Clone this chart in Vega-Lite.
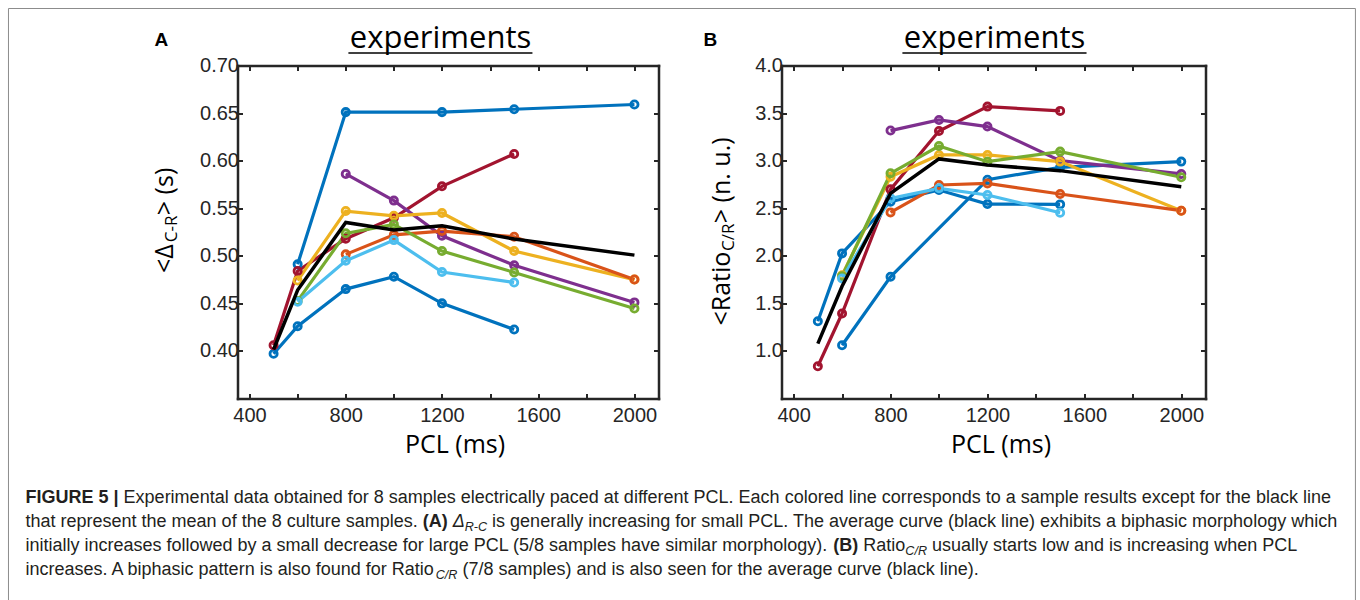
{
  "$schema": "https://vega.github.io/schema/vega-lite/v6.json",
  "background": "white",
  "padding": {"left": 7.5, "top": 7.5, "right": 0, "bottom": 0},
  "autosize": {"type": "pad"},
  "config": {
    "view": {"stroke": null},
    "font": "Liberation Sans",
    "axis": {
      "grid": false,
      "domainColor": "#262626",
      "domainWidth": 2.5,
      "domainCap": "square",
      "tickColor": "#262626",
      "tickWidth": 2,
      "tickSize": -5,
      "labelFont": "Liberation Sans",
      "labelFontSize": 20,
      "labelColor": "#262626",
      "labelOverlap": false,
      "labelFlush": false,
      "titleFont": "Open Sans",
      "titleFontSize": 25,
      "titleFontWeight": "normal",
      "titleColor": "#000000"
    }
  },
  "datasets": {
    "A": [
      {"sample": "s1", "pcl": 600, "v": 0.491}, {"sample": "s1", "pcl": 800, "v": 0.651}, {"sample": "s1", "pcl": 1200, "v": 0.651}, {"sample": "s1", "pcl": 1500, "v": 0.654}, {"sample": "s1", "pcl": 2000, "v": 0.659},
      {"sample": "s2", "pcl": 500, "v": 0.397}, {"sample": "s2", "pcl": 600, "v": 0.426}, {"sample": "s2", "pcl": 800, "v": 0.465}, {"sample": "s2", "pcl": 1000, "v": 0.478}, {"sample": "s2", "pcl": 1200, "v": 0.45}, {"sample": "s2", "pcl": 1500, "v": 0.4225},
      {"sample": "s3", "pcl": 500, "v": 0.406}, {"sample": "s3", "pcl": 600, "v": 0.484}, {"sample": "s3", "pcl": 800, "v": 0.518}, {"sample": "s3", "pcl": 1000, "v": 0.54}, {"sample": "s3", "pcl": 1200, "v": 0.573}, {"sample": "s3", "pcl": 1500, "v": 0.607},
      {"sample": "s4", "pcl": 800, "v": 0.586}, {"sample": "s4", "pcl": 1000, "v": 0.558}, {"sample": "s4", "pcl": 1200, "v": 0.521}, {"sample": "s4", "pcl": 1500, "v": 0.49}, {"sample": "s4", "pcl": 2000, "v": 0.451},
      {"sample": "s5", "pcl": 600, "v": 0.474}, {"sample": "s5", "pcl": 800, "v": 0.547}, {"sample": "s5", "pcl": 1000, "v": 0.542}, {"sample": "s5", "pcl": 1200, "v": 0.545}, {"sample": "s5", "pcl": 1500, "v": 0.505}, {"sample": "s5", "pcl": 2000, "v": 0.475},
      {"sample": "s6", "pcl": 800, "v": 0.5015}, {"sample": "s6", "pcl": 1000, "v": 0.522}, {"sample": "s6", "pcl": 1200, "v": 0.526}, {"sample": "s6", "pcl": 1500, "v": 0.52}, {"sample": "s6", "pcl": 2000, "v": 0.475},
      {"sample": "s7", "pcl": 600, "v": 0.4526}, {"sample": "s7", "pcl": 800, "v": 0.5236}, {"sample": "s7", "pcl": 1000, "v": 0.533}, {"sample": "s7", "pcl": 1200, "v": 0.505}, {"sample": "s7", "pcl": 1500, "v": 0.4825}, {"sample": "s7", "pcl": 2000, "v": 0.4446},
      {"sample": "s8", "pcl": 600, "v": 0.4516}, {"sample": "s8", "pcl": 800, "v": 0.4947}, {"sample": "s8", "pcl": 1000, "v": 0.5165}, {"sample": "s8", "pcl": 1200, "v": 0.483}, {"sample": "s8", "pcl": 1500, "v": 0.472},
      {"sample": "mean", "pcl": 500, "v": 0.4015}, {"sample": "mean", "pcl": 600, "v": 0.464}, {"sample": "mean", "pcl": 800, "v": 0.535}, {"sample": "mean", "pcl": 1000, "v": 0.527}, {"sample": "mean", "pcl": 1200, "v": 0.5316}, {"sample": "mean", "pcl": 1500, "v": 0.5176}, {"sample": "mean", "pcl": 2000, "v": 0.5007}
    ],
    "B": [
      {"sample": "s1", "pcl": 600, "v": 1.06}, {"sample": "s1", "pcl": 800, "v": 1.779}, {"sample": "s1", "pcl": 1200, "v": 2.8}, {"sample": "s1", "pcl": 1500, "v": 2.93}, {"sample": "s1", "pcl": 2000, "v": 2.99},
      {"sample": "s2", "pcl": 500, "v": 1.312}, {"sample": "s2", "pcl": 600, "v": 2.025}, {"sample": "s2", "pcl": 800, "v": 2.568}, {"sample": "s2", "pcl": 1000, "v": 2.691}, {"sample": "s2", "pcl": 1200, "v": 2.544}, {"sample": "s2", "pcl": 1500, "v": 2.54},
      {"sample": "s3", "pcl": 500, "v": 0.839}, {"sample": "s3", "pcl": 600, "v": 1.393}, {"sample": "s3", "pcl": 800, "v": 2.698}, {"sample": "s3", "pcl": 1000, "v": 3.312}, {"sample": "s3", "pcl": 1200, "v": 3.568}, {"sample": "s3", "pcl": 1500, "v": 3.523},
      {"sample": "s4", "pcl": 800, "v": 3.316}, {"sample": "s4", "pcl": 1000, "v": 3.428}, {"sample": "s4", "pcl": 1200, "v": 3.358}, {"sample": "s4", "pcl": 1500, "v": 3.0}, {"sample": "s4", "pcl": 2000, "v": 2.86},
      {"sample": "s5", "pcl": 600, "v": 1.796}, {"sample": "s5", "pcl": 800, "v": 2.83}, {"sample": "s5", "pcl": 1000, "v": 3.06}, {"sample": "s5", "pcl": 1200, "v": 3.06}, {"sample": "s5", "pcl": 1500, "v": 2.99}, {"sample": "s5", "pcl": 2000, "v": 2.474},
      {"sample": "s6", "pcl": 800, "v": 2.456}, {"sample": "s6", "pcl": 1000, "v": 2.744}, {"sample": "s6", "pcl": 1200, "v": 2.761}, {"sample": "s6", "pcl": 1500, "v": 2.649}, {"sample": "s6", "pcl": 2000, "v": 2.474},
      {"sample": "s7", "pcl": 600, "v": 1.786}, {"sample": "s7", "pcl": 800, "v": 2.867}, {"sample": "s7", "pcl": 1000, "v": 3.154}, {"sample": "s7", "pcl": 1200, "v": 2.989}, {"sample": "s7", "pcl": 1500, "v": 3.095}, {"sample": "s7", "pcl": 2000, "v": 2.825},
      {"sample": "s8", "pcl": 600, "v": 1.761}, {"sample": "s8", "pcl": 800, "v": 2.604}, {"sample": "s8", "pcl": 1000, "v": 2.709}, {"sample": "s8", "pcl": 1200, "v": 2.639}, {"sample": "s8", "pcl": 1500, "v": 2.453},
      {"sample": "mean", "pcl": 500, "v": 1.077}, {"sample": "mean", "pcl": 600, "v": 1.68}, {"sample": "mean", "pcl": 800, "v": 2.656}, {"sample": "mean", "pcl": 1000, "v": 3.018}, {"sample": "mean", "pcl": 1200, "v": 2.954}, {"sample": "mean", "pcl": 1500, "v": 2.895}, {"sample": "mean", "pcl": 2000, "v": 2.726}
    ],
    "caption": [
      {"part": "L1a", "line": 1, "t": "FIGURE 5 |"},
      {"part": "L1b", "line": 1, "t": "Experimental data obtained for 8 samples electrically paced at different PCL. Each colored line corresponds to a sample results except for the black line"},
      {"part": "L2a", "line": 2, "t": "that represent the mean of the 8 culture samples."},
      {"part": "L2b", "line": 2, "t": "(A)"},
      {"part": "L2c", "line": 2, "t": "Δ"},
      {"part": "L2d", "line": 2, "t": "R-C"},
      {"part": "L2e", "line": 2, "t": "is generally increasing for small PCL. The average curve (black line) exhibits a biphasic morphology which"},
      {"part": "L3a", "line": 3, "t": "initially increases followed by a small decrease for large PCL (5/8 samples have similar morphology)."},
      {"part": "L3b", "line": 3, "t": "(B)"},
      {"part": "L3c", "line": 3, "t": "Ratio"},
      {"part": "L3d", "line": 3, "t": "C/R"},
      {"part": "L3e", "line": 3, "t": "usually starts low and is increasing when PCL"},
      {"part": "L4a", "line": 4, "t": "increases. A biphasic pattern is also found for Ratio"},
      {"part": "L4b", "line": 4, "t": "C/R"},
      {"part": "L4c", "line": 4, "t": "(7/8 samples) and is also seen for the average curve (black line)."}
    ]
  },
  "concat": [
    {
      "width": 421,
      "height": 333,
      "resolve": {"axis": {"x": "independent", "y": "independent"}},
      "layer": [
        {
          "data": {"name": "A"},
          "transform": [{"filter": "datum.sample !== 'mean'"}],
          "mark": {"type": "line", "strokeWidth": 3.2, "point": {"filled": false, "size": 52, "strokeWidth": 2.8}},
          "encoding": {
            "x": {"field": "pcl", "type": "quantitative", "scale": {"domain": [350, 2100], "nice": false, "zero": false},
              "axis": {"orient": "bottom", "values": [400, 600, 800, 1000, 1200, 1400, 1600, 1800, 2000], "format": "d", "labelExpr": "datum.value % 400 === 0 ? datum.label : ''", "labelPadding": 12, "title": "PCL (ms)", "titleX": 217, "titleY": 54, "titleBaseline": "alphabetic"}},
            "y": {"field": "v", "type": "quantitative", "scale": {"domain": [0.35, 0.7], "nice": false, "zero": false},
              "axis": {"orient": "left", "values": [0.4, 0.45, 0.5, 0.55, 0.6, 0.65, 0.7], "format": ".2f", "labelPadding": 4, "title": null}},
            "color": {"field": "sample", "type": "nominal", "scale": {"domain": ["s1", "s2", "s3", "s4", "s5", "s6", "s7", "s8"], "range": ["#0072BD", "#0072BD", "#A2142F", "#7E2F8E", "#EDB120", "#D95319", "#77AC30", "#4DBEEE"]}, "legend": null}
          }
        },
        {
          "data": {"name": "A"},
          "transform": [{"filter": "datum.sample === 'mean'"}],
          "mark": {"type": "line", "color": "#000000", "strokeWidth": 3.5},
          "encoding": {
            "x": {"field": "pcl", "type": "quantitative", "axis": null},
            "y": {"field": "v", "type": "quantitative", "axis": null}
          }
        },
        {
          "data": {"name": "A"},
          "mark": {"type": "point", "opacity": 0},
          "encoding": {
            "x": {"field": "pcl", "type": "quantitative", "axis": {"orient": "top", "labels": false, "title": null, "values": [400, 600, 800, 1000, 1200, 1400, 1600, 1800, 2000]}},
            "y": {"field": "v", "type": "quantitative", "axis": {"orient": "right", "labels": false, "title": null, "values": [0.4, 0.45, 0.5, 0.55, 0.6, 0.65, 0.7]}}
          }
        },
        {
          "data": {"values": [{}]},
          "mark": {"type": "rule", "color": "#8c8c8c", "strokeWidth": 1},
          "encoding": {
            "x": {"datum": -602, "type": "quantitative", "axis": null},
            "x2": {"datum": 4997},
            "y": {"datum": 0.7599, "type": "quantitative", "axis": null}
          }
        },
        {
          "data": {"values": [{}]},
          "mark": {"type": "rule", "color": "#8c8c8c", "strokeWidth": 1},
          "encoding": {
            "x": {"datum": -602, "type": "quantitative", "axis": null},
            "y": {"datum": 0.7599, "type": "quantitative", "axis": null},
            "y2": {"datum": 0.1382}
          }
        },
        {
          "data": {"values": [{}]},
          "mark": {"type": "rule", "color": "#8c8c8c", "strokeWidth": 1},
          "encoding": {
            "x": {"datum": 4997, "type": "quantitative", "axis": null},
            "y": {"datum": 0.7599, "type": "quantitative", "axis": null},
            "y2": {"datum": 0.1382}
          }
        },
        {
          "data": {"values": [{"t": "experiments"}]},
          "mark": {"type": "text", "font": "Open Sans", "fontSize": 31, "align": "center", "baseline": "alphabetic", "color": "#000000", "dx": -7.5, "dy": -17.5},
          "encoding": {
            "x": {"datum": 1225, "type": "quantitative", "axis": null},
            "y": {"datum": 0.7, "type": "quantitative", "axis": null},
            "text": {"field": "t"}
          }
        },
        {
          "data": {"values": [{}]},
          "mark": {"type": "rule", "color": "#000000", "strokeWidth": 1.6},
          "encoding": {
            "x": {"datum": 811, "type": "quantitative", "axis": null},
            "x2": {"datum": 1576},
            "y": {"datum": 0.7131, "type": "quantitative", "axis": null}
          }
        },
        {
          "data": {"values": [{"t": "A"}]},
          "mark": {"type": "text", "fontSize": 19, "fontWeight": "bold", "align": "left", "baseline": "alphabetic", "color": "#000000", "dx": -83, "dy": -20},
          "encoding": {
            "x": {"datum": 350, "type": "quantitative", "axis": null},
            "y": {"datum": 0.7, "type": "quantitative", "axis": null},
            "text": {"field": "t"}
          }
        },
        {
          "data": {"values": [{"t": "<Δ"}]},
          "mark": {"type": "text", "font": "Open Sans", "fontSize": 25, "angle": 270, "align": "left", "baseline": "alphabetic", "color": "#000000", "dx": 125.5, "dy": -65},
          "encoding": {
            "x": {"datum": 350, "type": "quantitative", "axis": null},
            "y": {"datum": 0.35, "type": "quantitative", "axis": null},
            "text": {"field": "t"}
          }
        },
        {
          "data": {"values": [{"t": "C-R"}]},
          "mark": {"type": "text", "font": "Open Sans", "fontSize": 17, "angle": 270, "align": "left", "baseline": "alphabetic", "color": "#000000", "dx": 156.3, "dy": -61},
          "encoding": {
            "x": {"datum": 350, "type": "quantitative", "axis": null},
            "y": {"datum": 0.35, "type": "quantitative", "axis": null},
            "text": {"field": "t"}
          }
        },
        {
          "data": {"values": [{"t": "> (s)"}]},
          "mark": {"type": "text", "font": "Open Sans", "fontSize": 25, "angle": 270, "align": "left", "baseline": "alphabetic", "color": "#000000", "dx": 183.3, "dy": -65},
          "encoding": {
            "x": {"datum": 350, "type": "quantitative", "axis": null},
            "y": {"datum": 0.35, "type": "quantitative", "axis": null},
            "text": {"field": "t"}
          }
        }
      ]
    },
    {
      "width": 424,
      "height": 333,
      "resolve": {"axis": {"x": "independent", "y": "independent"}},
      "layer": [
        {
          "data": {"name": "B"},
          "transform": [{"filter": "datum.sample !== 'mean'"}],
          "mark": {"type": "line", "strokeWidth": 3.2, "point": {"filled": false, "size": 52, "strokeWidth": 2.8}},
          "encoding": {
            "x": {"field": "pcl", "type": "quantitative", "scale": {"domain": [350, 2100], "nice": false, "zero": false},
              "axis": {"orient": "bottom", "values": [400, 600, 800, 1000, 1200, 1400, 1600, 1800, 2000], "format": "d", "labelExpr": "datum.value % 400 === 0 ? datum.label : ''", "labelPadding": 12, "title": "PCL (ms)", "titleX": 219, "titleY": 54, "titleBaseline": "alphabetic"}},
            "y": {"field": "v", "type": "quantitative", "scale": {"domain": [0.5, 4.0], "nice": false, "zero": false},
              "axis": {"orient": "left", "values": [1.0, 1.5, 2.0, 2.5, 3.0, 3.5, 4.0], "format": ".1f", "labelPadding": 4, "title": null}},
            "color": {"field": "sample", "type": "nominal", "scale": {"domain": ["s1", "s2", "s3", "s4", "s5", "s6", "s7", "s8"], "range": ["#0072BD", "#0072BD", "#A2142F", "#7E2F8E", "#EDB120", "#D95319", "#77AC30", "#4DBEEE"]}, "legend": null}
          }
        },
        {
          "data": {"name": "B"},
          "transform": [{"filter": "datum.sample === 'mean'"}],
          "mark": {"type": "line", "color": "#000000", "strokeWidth": 3.5},
          "encoding": {
            "x": {"field": "pcl", "type": "quantitative", "axis": null},
            "y": {"field": "v", "type": "quantitative", "axis": null}
          }
        },
        {
          "data": {"name": "B"},
          "mark": {"type": "point", "opacity": 0},
          "encoding": {
            "x": {"field": "pcl", "type": "quantitative", "axis": {"orient": "top", "labels": false, "title": null, "values": [400, 600, 800, 1000, 1200, 1400, 1600, 1800, 2000]}},
            "y": {"field": "v", "type": "quantitative", "axis": {"orient": "right", "labels": false, "title": null, "values": [1.0, 1.5, 2.0, 2.5, 3.0, 3.5, 4.0]}}
          }
        },
        {
          "data": {"values": [{"t": "experiments"}]},
          "mark": {"type": "text", "font": "Open Sans", "fontSize": 31, "align": "center", "baseline": "alphabetic", "color": "#000000", "dx": 1, "dy": -17.5},
          "encoding": {
            "x": {"datum": 1225, "type": "quantitative", "axis": null},
            "y": {"datum": 4.0, "type": "quantitative", "axis": null},
            "text": {"field": "t"}
          }
        },
        {
          "data": {"values": [{}]},
          "mark": {"type": "rule", "color": "#000000", "strokeWidth": 1.6},
          "encoding": {
            "x": {"datum": 849, "type": "quantitative", "axis": null},
            "x2": {"datum": 1609},
            "y": {"datum": 4.1314, "type": "quantitative", "axis": null}
          }
        },
        {
          "data": {"values": [{"t": "B"}]},
          "mark": {"type": "text", "fontSize": 19, "fontWeight": "bold", "align": "left", "baseline": "alphabetic", "color": "#000000", "dx": -78, "dy": -20},
          "encoding": {
            "x": {"datum": 350, "type": "quantitative", "axis": null},
            "y": {"datum": 4.0, "type": "quantitative", "axis": null},
            "text": {"field": "t"}
          }
        },
        {
          "data": {"values": [{"t": "<Ratio"}]},
          "mark": {"type": "text", "font": "Open Sans", "fontSize": 25, "angle": 270, "align": "left", "baseline": "alphabetic", "color": "#000000", "dx": 73, "dy": -52},
          "encoding": {
            "x": {"datum": 350, "type": "quantitative", "axis": null},
            "y": {"datum": 0.5, "type": "quantitative", "axis": null},
            "text": {"field": "t"}
          }
        },
        {
          "data": {"values": [{"t": "C/R"}]},
          "mark": {"type": "text", "font": "Open Sans", "fontSize": 17, "angle": 270, "align": "left", "baseline": "alphabetic", "color": "#000000", "dx": 147.5, "dy": -48},
          "encoding": {
            "x": {"datum": 350, "type": "quantitative", "axis": null},
            "y": {"datum": 0.5, "type": "quantitative", "axis": null},
            "text": {"field": "t"}
          }
        },
        {
          "data": {"values": [{"t": "> (n. u.)"}]},
          "mark": {"type": "text", "font": "Open Sans", "fontSize": 25, "angle": 270, "align": "left", "baseline": "alphabetic", "color": "#000000", "dx": 175.3, "dy": -52},
          "encoding": {
            "x": {"datum": 350, "type": "quantitative", "axis": null},
            "y": {"datum": 0.5, "type": "quantitative", "axis": null},
            "text": {"field": "t"}
          }
        }
      ]
    },
    {
      "width": 421,
      "height": 72,
      "data": {"name": "caption"},
      "encoding": {
        "x": {"datum": 0, "type": "quantitative", "scale": {"domain": [0, 1]}, "axis": null},
        "y": {"field": "line", "type": "quantitative", "scale": {"domain": [1, 4], "reverse": true}, "axis": null},
        "text": {"field": "t"}
      },
      "layer": [
        {"transform": [{"filter": "datum.part === 'L1a'"}], "mark": {"type": "text", "align": "left", "baseline": "alphabetic", "fontSize": 18, "fontWeight": "bold", "color": "#231f20", "dx": -212}},
        {"transform": [{"filter": "datum.part === 'L1b'"}], "mark": {"type": "text", "align": "left", "baseline": "alphabetic", "fontSize": 18, "color": "#231f20", "dx": -113.9}},
        {"transform": [{"filter": "datum.part === 'L2a'"}], "mark": {"type": "text", "align": "left", "baseline": "alphabetic", "fontSize": 18, "color": "#231f20", "dx": -212}},
        {"transform": [{"filter": "datum.part === 'L2b'"}], "mark": {"type": "text", "align": "left", "baseline": "alphabetic", "fontSize": 18, "fontWeight": "bold", "color": "#231f20", "dx": 185.2}},
        {"transform": [{"filter": "datum.part === 'L2c'"}], "mark": {"type": "text", "align": "left", "baseline": "alphabetic", "fontSize": 18, "fontStyle": "italic", "color": "#231f20", "dx": 215.2}},
        {"transform": [{"filter": "datum.part === 'L2d'"}], "mark": {"type": "text", "align": "left", "baseline": "alphabetic", "fontSize": 12.6, "fontStyle": "italic", "color": "#231f20", "dx": 227.2, "dy": 4}},
        {"transform": [{"filter": "datum.part === 'L2e'"}], "mark": {"type": "text", "align": "left", "baseline": "alphabetic", "fontSize": 18, "color": "#231f20", "dx": 254.6}},
        {"transform": [{"filter": "datum.part === 'L3a'"}], "mark": {"type": "text", "align": "left", "baseline": "alphabetic", "fontSize": 18, "color": "#231f20", "dx": -212}},
        {"transform": [{"filter": "datum.part === 'L3b'"}], "mark": {"type": "text", "align": "left", "baseline": "alphabetic", "fontSize": 18, "fontWeight": "bold", "color": "#231f20", "dx": 595.8}},
        {"transform": [{"filter": "datum.part === 'L3c'"}], "mark": {"type": "text", "align": "left", "baseline": "alphabetic", "fontSize": 18, "color": "#231f20", "dx": 625.8}},
        {"transform": [{"filter": "datum.part === 'L3d'"}], "mark": {"type": "text", "align": "left", "baseline": "alphabetic", "fontSize": 12.6, "fontStyle": "italic", "color": "#231f20", "dx": 667.8, "dy": 4}},
        {"transform": [{"filter": "datum.part === 'L3e'"}], "mark": {"type": "text", "align": "left", "baseline": "alphabetic", "fontSize": 18, "color": "#231f20", "dx": 694.5}},
        {"transform": [{"filter": "datum.part === 'L4a'"}], "mark": {"type": "text", "align": "left", "baseline": "alphabetic", "fontSize": 18, "color": "#231f20", "dx": -212}},
        {"transform": [{"filter": "datum.part === 'L4b'"}], "mark": {"type": "text", "align": "left", "baseline": "alphabetic", "fontSize": 12.6, "fontStyle": "italic", "color": "#231f20", "dx": 198.2, "dy": 4}},
        {"transform": [{"filter": "datum.part === 'L4c'"}], "mark": {"type": "text", "align": "left", "baseline": "alphabetic", "fontSize": 18, "color": "#231f20", "dx": 224.9}}
      ]
    }
  ],
  "columns": 2,
  "align": "each",
  "bounds": "flush",
  "spacing": {"row": 104, "column": 123}
}
